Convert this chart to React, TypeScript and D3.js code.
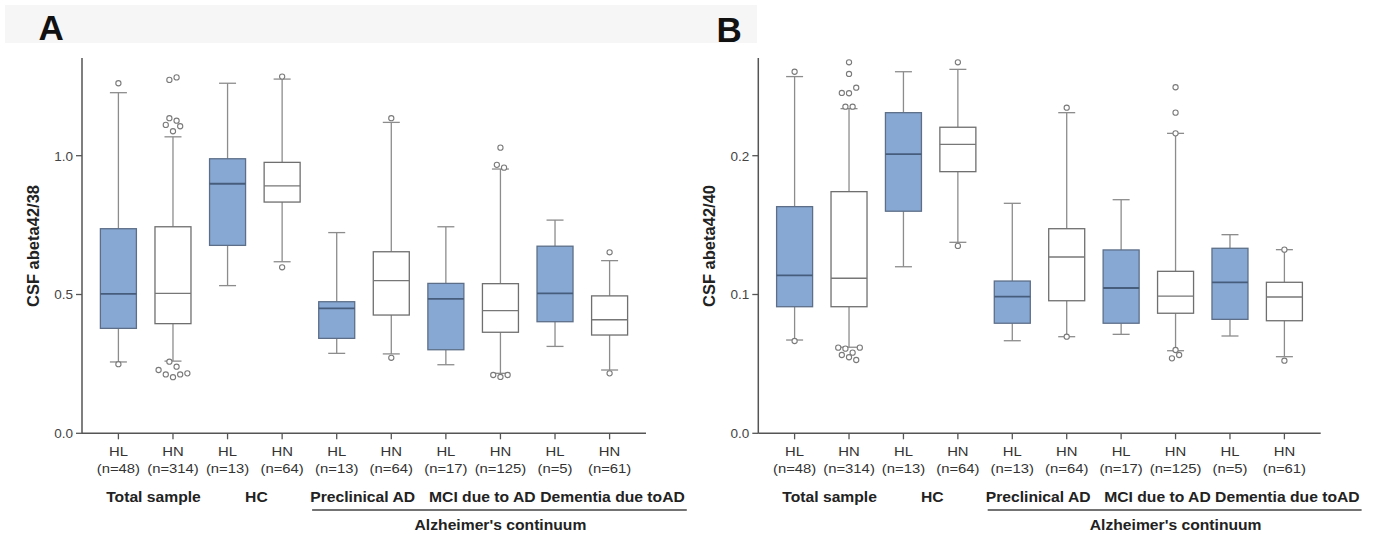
import React from "react";
import * as d3 from "d3";

const categories = ["HL", "HN", "HL", "HN", "HL", "HN", "HL", "HN", "HL", "HN"];
const nLabels = ["(n=48)", "(n=314)", "(n=13)", "(n=64)", "(n=13)", "(n=64)", "(n=17)", "(n=125)", "(n=5)", "(n=61)"];
const groups = ["Total sample", "HC", "Preclinical AD", "MCI due to AD", "Dementia due toAD"];
const continuumLabel = "Alzheimer's continuum";

// Panel A: CSF abeta42/38
const aLow = [0.257, 0.26, 0.532, 0.618, 0.288, 0.286, 0.247, 0.216, 0.313, 0.228];
const aQ1 = [0.378, 0.395, 0.677, 0.833, 0.342, 0.426, 0.301, 0.364, 0.402, 0.354];
const aMed = [0.502, 0.504, 0.899, 0.891, 0.45, 0.55, 0.484, 0.442, 0.504, 0.409];
const aQ3 = [0.737, 0.744, 0.989, 0.976, 0.474, 0.654, 0.54, 0.539, 0.674, 0.495];
const aHigh = [1.227, 1.068, 1.261, 1.276, 0.723, 1.12, 0.744, 0.952, 0.768, 0.622];
// [box index, value, jitter slot]
const aOutliers: [number, number, number][] = [
  [0, 1.261, 0], [0, 0.249, 0],
  [1, 1.282, 1], [1, 1.273, -1], [1, 1.135, -1], [1, 1.126, 1], [1, 1.111, -2], [1, 1.106, 2], [1, 1.088, 0],
  [1, 0.258, -1], [1, 0.24, 1], [1, 0.228, -4], [1, 0.212, -2], [1, 0.202, 0], [1, 0.212, 2], [1, 0.216, 4],
  [3, 1.285, 0], [3, 0.598, 0],
  [5, 1.135, 0], [5, 0.272, 0],
  [7, 1.029, 0], [7, 0.967, -1], [7, 0.957, 1], [7, 0.21, -2], [7, 0.203, 0], [7, 0.21, 2],
  [9, 0.652, 0], [9, 0.216, 0],
];
const aTicks = [0, 0.5, 1.0];

// Panel B: CSF abeta42/40
const bLow = [0.0672, 0.062, 0.12, 0.1376, 0.0667, 0.0696, 0.0713, 0.0595, 0.0701, 0.0552];
const bQ1 = [0.0912, 0.0912, 0.16, 0.1885, 0.0793, 0.0955, 0.0793, 0.0865, 0.0821, 0.0811];
const bMed = [0.1138, 0.1117, 0.2012, 0.2082, 0.0984, 0.127, 0.1047, 0.0989, 0.1088, 0.0982];
const bQ3 = [0.1633, 0.1741, 0.231, 0.2205, 0.1097, 0.1474, 0.1321, 0.1167, 0.1333, 0.1088];
const bHigh = [0.257, 0.2339, 0.2605, 0.2622, 0.1657, 0.231, 0.1683, 0.2161, 0.1431, 0.1323];
const bOutliers: [number, number, number][] = [
  [0, 0.2605, 0], [0, 0.0665, 0],
  [1, 0.2673, 0], [1, 0.2589, 0], [1, 0.249, 2], [1, 0.2452, -2], [1, 0.245, 0], [1, 0.2353, -1], [1, 0.2353, 1],
  [1, 0.0617, -3], [1, 0.061, -1], [1, 0.0617, 3], [1, 0.0581, 1], [1, 0.0564, -2], [1, 0.0548, 0], [1, 0.0528, 2],
  [3, 0.2673, 0], [3, 0.135, 0],
  [5, 0.2346, 0], [5, 0.0696, 0],
  [7, 0.2493, 0], [7, 0.231, 0], [7, 0.2161, 0], [7, 0.06, 0], [7, 0.054, -1], [7, 0.0564, 1],
  [9, 0.1323, 0], [9, 0.0523, 0],
];
const bTicks = [0, 0.1, 0.2];

// layout (not data)
const groupOffsets = [7.8, 1.6, -1.4, 9.1, 30.2];
const FONT = "'Liberation Sans', Arial, Helvetica, sans-serif";
const BLUE = "#88a8d4";

type PanelProps = {
  letter: string;
  letterX: number;
  letterY: number;
  axisX0: number;
  axisX1: number;
  titleX: number;
  title: string;
  refVal: number;
  topVal: number;
  ticks: number[];
  low: number[];
  q1: number[];
  med: number[];
  q3: number[];
  high: number[];
  outliers: [number, number, number][];
};

function Panel(p: PanelProps) {
  const yBase = 433.3;
  const y = d3.scaleLinear().domain([0, p.refVal]).range([yBase, 155.7]);
  const x = d3
    .scalePoint<number>()
    .domain(d3.range(categories.length))
    .range([p.axisX0, p.axisX1])
    .padding(0.667);
  const step = x.step();
  const boxW = 36;
  const capW = 17;
  const jit = 3.6;
  const fmt = d3.format(".1f");
  const pairCenter = (g: number) => ((x(2 * g) as number) + (x(2 * g + 1) as number)) / 2;
  const ulX0 = (x(4) as number) - 24.6;
  const ulX1 = (x(9) as number) + 77.2;
  return (
    <g>
      <text x={p.letterX} y={p.letterY} fontFamily={FONT} fontWeight="bold" fontSize={35} fill="#111">
        {p.letter}
      </text>
      <text
        transform={`translate(${p.titleX},246) rotate(-90)`}
        textAnchor="middle"
        dy="0.35em"
        fontFamily={FONT}
        fontWeight="bold"
        fontSize={16.5}
        fill="#222"
      >
        {p.title}
      </text>
      {/* y axis */}
      <line x1={p.axisX0} x2={p.axisX0} y1={y(p.topVal)} y2={yBase} stroke="#555" strokeWidth={1.5} />
      {p.ticks.map((t) => (
        <g key={t}>
          <line x1={p.axisX0 - 6} x2={p.axisX0} y1={y(t)} y2={y(t)} stroke="#555" strokeWidth={1.3} />
          <text
            x={p.axisX0 - 9}
            y={y(t)}
            dy="0.36em"
            textAnchor="end"
            fontFamily={FONT}
            fontSize={13.5}
            fill="#444"
          >
            {fmt(t)}
          </text>
        </g>
      ))}
      {/* x axis */}
      <line x1={p.axisX0} x2={p.axisX1} y1={yBase} y2={yBase} stroke="#555" strokeWidth={1.5} />
      {categories.map((c, i) => {
        const cx = x(i) as number;
        return (
          <g key={i}>
            <line x1={cx} x2={cx} y1={yBase} y2={yBase + 6} stroke="#555" strokeWidth={1.3} />
            <text
              transform={`translate(${cx},455.5) scale(1.1,1)`}
              textAnchor="middle"
              fontFamily={FONT}
              fontSize={13.5}
              fill="#333"
            >
              {c}
            </text>
            <text
              transform={`translate(${cx},473) scale(1.1,1)`}
              textAnchor="middle"
              fontFamily={FONT}
              fontSize={13.5}
              fill="#333"
            >
              {nLabels[i]}
            </text>
          </g>
        );
      })}
      {groups.map((g, gi) => (
        <text
          key={g}
          transform={`translate(${pairCenter(gi) + groupOffsets[gi]},502) scale(1.12,1)`}
          textAnchor="middle"
          fontFamily={FONT}
          fontWeight="bold"
          fontSize={14}
          fill="#222"
        >
          {g}
        </text>
      ))}
      <line x1={ulX0} x2={ulX1} y1={510} y2={510} stroke="#444" strokeWidth={1.3} />
      <text
        transform={`translate(${(ulX0 + ulX1) / 2 + 1},530.3) scale(1.12,1)`}
        textAnchor="middle"
        fontFamily={FONT}
        fontWeight="bold"
        fontSize={14}
        fill="#222"
      >
        {continuumLabel}
      </text>
      {/* boxes */}
      {categories.map((c, i) => {
        const cx = x(i) as number;
        const isBlue = c === "HL";
        return (
          <g key={"b" + i}>
            <line x1={cx} x2={cx} y1={y(p.high[i])} y2={y(p.q3[i])} stroke="#8c8c8c" strokeWidth={1.3} />
            <line x1={cx} x2={cx} y1={y(p.q1[i])} y2={y(p.low[i])} stroke="#8c8c8c" strokeWidth={1.3} />
            <line x1={cx - capW / 2} x2={cx + capW / 2} y1={y(p.high[i])} y2={y(p.high[i])} stroke="#8c8c8c" strokeWidth={1.3} />
            <line x1={cx - capW / 2} x2={cx + capW / 2} y1={y(p.low[i])} y2={y(p.low[i])} stroke="#8c8c8c" strokeWidth={1.3} />
            <rect
              x={cx - boxW / 2}
              width={boxW}
              y={y(p.q3[i])}
              height={y(p.q1[i]) - y(p.q3[i])}
              fill={isBlue ? BLUE : "#ffffff"}
              stroke={isBlue ? "#5d6f88" : "#6f6f6f"}
              strokeWidth={1.3}
            />
            <line
              x1={cx - boxW / 2}
              x2={cx + boxW / 2}
              y1={y(p.med[i])}
              y2={y(p.med[i])}
              stroke={isBlue ? "#475d7c" : "#777"}
              strokeWidth={isBlue ? 1.8 : 1.3}
            />
          </g>
        );
      })}
      {p.outliers.map(([bi, v, s], k) => (
        <circle
          key={"o" + k}
          cx={(x(bi) as number) + s * jit}
          cy={y(v)}
          r={2.6}
          fill="#fff"
          stroke="#7a7a7a"
          strokeWidth={1.1}
        />
      ))}
    </g>
  );
}

export default function App() {
  return (
    <svg
      width={1381}
      height={534}
      style={{ position: "absolute", left: 0, top: 0, background: "#fff" }}
    >
      <rect x={5} y={5} width={752} height={38} fill="#f6f6f6" />
      <Panel
        letter="A"
        letterX={38.5}
        letterY={39.5}
        axisX0={82}
        axisX1={646}
        titleX={33}
        title="CSF abeta42/38"
        refVal={1.0}
        topVal={1.352}
        ticks={aTicks}
        low={aLow}
        q1={aQ1}
        med={aMed}
        q3={aQ3}
        high={aHigh}
        outliers={aOutliers}
      />
      <Panel
        letter="B"
        letterX={716.5}
        letterY={41.5}
        axisX0={758.3}
        axisX1={1320.7}
        titleX={709}
        title="CSF abeta42/40"
        refVal={0.2}
        topVal={0.2704}
        ticks={bTicks}
        low={bLow}
        q1={bQ1}
        med={bMed}
        q3={bQ3}
        high={bHigh}
        outliers={bOutliers}
      />
    </svg>
  );
}
